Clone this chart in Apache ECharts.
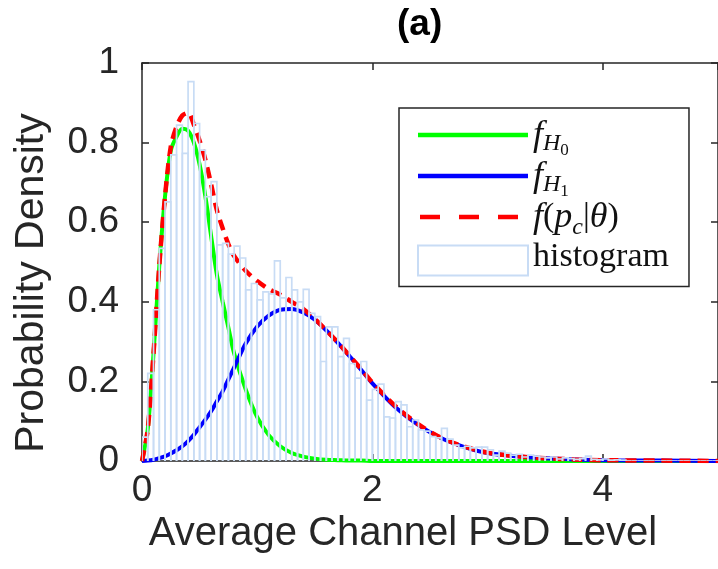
<!DOCTYPE html>
<html>
<head>
<meta charset="utf-8">
<script src="https://cdn.jsdelivr.net/npm/echarts@6/dist/echarts.min.js"></script>
<style>
  html, body { margin: 0; padding: 0; background: #fff; }
  #chart { width: 718px; height: 569px; }
</style>
</head>
<body>
<div id="chart"></div>
<script>
const xs = [0, 0.05, 0.1, 0.15, 0.2, 0.25, 0.3, 0.35, 0.4, 0.45, 0.5, 0.55, 0.6, 0.65, 0.7, 0.75, 0.8, 0.9,
  1.0, 1.1, 1.2, 1.3, 1.4, 1.5, 1.6, 1.7, 1.8, 1.9, 2.0, 2.2, 2.4, 2.6, 2.8, 3.0, 3.25, 3.5, 3.75, 4.0, 4.5, 5.0];

const fH0 = [0, 0.08, 0.27, 0.49, 0.665, 0.78, 0.815, 0.835, 0.83, 0.8, 0.745, 0.665, 0.565, 0.468, 0.4, 0.335, 0.27, 0.18,
  0.11, 0.065, 0.037, 0.02, 0.011, 0.006, 0.003, 0.002, 0.001, 0.001, 0, 0, 0, 0, 0, 0, 0, 0, 0, 0, 0, 0];

const fH1 = [0, 0.001, 0.003, 0.007, 0.012, 0.019, 0.027, 0.037, 0.05, 0.066, 0.085, 0.104, 0.125, 0.15, 0.175, 0.205, 0.235, 0.295,
  0.338, 0.365, 0.38, 0.382, 0.373, 0.355, 0.328, 0.297, 0.264, 0.23, 0.195, 0.135, 0.09, 0.057, 0.035, 0.02, 0.012, 0.007, 0.004, 0.002, 0.001, 0];

const fMix = [0, 0.08, 0.27, 0.49, 0.665, 0.79, 0.84, 0.868, 0.875, 0.845, 0.805, 0.757, 0.695, 0.63, 0.585, 0.545, 0.515, 0.478,
  0.452, 0.432, 0.418, 0.4, 0.382, 0.357, 0.328, 0.298, 0.265, 0.232, 0.197, 0.138, 0.092, 0.058, 0.036, 0.021, 0.012, 0.007, 0.004, 0.002, 0.001, 0];

// histogram: bins of width 0.05 starting at 0
const binStart = 0;
const binWidth = 0.05;
const histHeights = [
  0.06, 0.22, 0.38, 0.534, 0.651, 0.769, 0.844, 0.773, 0.953, 0.848,
  0.781, 0.664, 0.702, 0.543, 0.547, 0.52, 0.54, 0.51, 0.43, 0.446,
  0.405, 0.425, 0.42, 0.503, 0.41, 0.461, 0.43, 0.4, 0.431, 0.371,
  0.363, 0.25, 0.337, 0.337, 0.262, 0.308, 0.245, 0.208, 0.25, 0.153,
  0.18, 0.193, 0.111, 0.108, 0.149, 0.141, 0.086, 0.103, 0.078, 0.075,
  0.061, 0.058, 0.082, 0.055, 0.04, 0.033, 0.037, 0.033, 0.035, 0.035,
  0.028, 0.015, 0.025, 0.02, 0.015, 0.017, 0.01, 0.015, 0.012, 0.01,
  0.008, 0.01, 0.005, 0.008, 0.006, 0.004, 0.006, 0.012, 0.004, 0.003,
  0.005, 0.002, 0.003, 0.002, 0, 0, 0, 0, 0, 0,
  0, 0, 0, 0, 0, 0, 0, 0, 0, 0
];

const xTicks = { min: 0, max: 5, interval: 2 };
const yTicks = { min: 0, max: 1, interval: 0.2 };

const axisColor = '#262626';
const sans = 'Liberation Sans';
const serif = 'Liberation Serif';

const histData = histHeights.map((h, k) => [binStart + k * binWidth, binStart + (k + 1) * binWidth, h]);

function renderBin(params, api) {
  const x0 = api.value(0), x1 = api.value(1), h = api.value(2);
  const pts = [api.coord([x0, 0]), api.coord([x0, h]), api.coord([x1, h]), api.coord([x1, 0])];
  return {
    type: 'polyline',
    shape: { points: pts },
    style: { fill: 'none', stroke: '#c8dcf5', lineWidth: 1.7 }
  };
}

function axisBase(extra) {
  return Object.assign({
    type: 'value',
    axisLine: { show: true, onZero: false, lineStyle: { color: axisColor, width: 1.5 } },
    axisTick: { show: true, inside: true, length: 7, lineStyle: { color: axisColor, width: 1.5 } },
    splitLine: { show: false }
  }, extra);
}

const lineIcon = 'path://M0,0h0.01v0.01h-0.01zM0,12.8h110v4.4h-110zM109.99,29.99h0.01v0.01h-0.01z';
const dashIcon = 'path://M0,0h0.01v0.01h-0.01zM2,12.8h20v4.4h-20zM41,12.8h20v4.4h-20zM80,12.8h20v4.4h-20zM109.99,29.99h0.01v0.01h-0.01z';

const legendText = {
  fH0: '{f|f}{s|H}{ss|0}',
  fH1: '{f|f}{s|H}{ss|1}',
  fpc: '{f|f}{r|(}{f|p}{sc|c}{r||}{f|θ}{r|)}',
  histogram: '{h|histogram}'
};

const option = {
  animation: false,
  title: {
    text: '(a)',
    left: 392,
    top: 1,
    textStyle: { fontFamily: sans, fontSize: 37, fontWeight: 'bold', color: '#000' }
  },
  grid: { left: 142, top: 63, right: -2, bottom: 108 },
  legend: {
    orient: 'vertical',
    left: 399,
    top: 108,
    padding: [10, 20, 10, 18],
    itemGap: 0,
    itemWidth: 110,
    itemHeight: 30,
    backgroundColor: '#fff',
    borderColor: axisColor,
    borderWidth: 1.5,
    selectedMode: false,
    data: [
      { name: 'fH0', icon: lineIcon, itemStyle: { color: '#00ff00', borderWidth: 0 } },
      { name: 'fH1', icon: lineIcon, itemStyle: { color: '#0000ff', borderWidth: 0 } },
      { name: 'fpc', icon: dashIcon, itemStyle: { color: '#ff0000', borderWidth: 0 } },
      { name: 'histogram', icon: 'rect', itemStyle: { color: '#fff', borderColor: '#c8dcf5', borderWidth: 2 } }
    ],
    formatter: name => legendText[name],
    textStyle: {
      color: '#111',
      rich: {
        f: { fontFamily: serif, fontStyle: 'italic', fontSize: 36, lineHeight: 34, verticalAlign: 'top' },
        r: { fontFamily: serif, fontSize: 34, lineHeight: 34, verticalAlign: 'top' },
        s: { fontFamily: serif, fontStyle: 'italic', fontSize: 24, lineHeight: 24, verticalAlign: 'top', padding: [14, 0, 0, 0] },
        ss: { fontFamily: serif, fontSize: 17, lineHeight: 17, verticalAlign: 'top', padding: [24, 0, 0, 0] },
        sc: { fontFamily: serif, fontStyle: 'italic', fontSize: 24, lineHeight: 24, verticalAlign: 'top', padding: [16, 0, 0, 0] },
        h: { fontFamily: serif, fontSize: 34, lineHeight: 41, verticalAlign: 'top' }
      }
    }
  },
  xAxis: [
    axisBase(Object.assign({
      position: 'bottom',
      axisLabel: { margin: 11, fontFamily: sans, fontSize: 37, color: axisColor, showMaxLabel: false },
      name: 'Average Channel PSD Level',
      nameLocation: 'middle',
      nameGap: 48,
      nameTextStyle: { fontFamily: sans, fontSize: 40, color: axisColor, padding: [0, 54, 0, 0] }
    }, xTicks)),
    axisBase(Object.assign({ position: 'top', axisLabel: { show: false } }, xTicks))
  ],
  yAxis: [
    axisBase(Object.assign({
      position: 'left',
      axisLabel: { margin: 23, fontFamily: sans, fontSize: 37, color: axisColor },
      name: 'Probability Density',
      nameLocation: 'middle',
      nameGap: 90,
      nameTextStyle: { fontFamily: sans, fontSize: 41, color: axisColor, padding: [0, 42, 0, 0] }
    }, yTicks)),
    axisBase(Object.assign({ position: 'right', axisLabel: { show: false } }, yTicks))
  ],
  series: [
    {
      name: 'fH0', type: 'line', symbol: 'none', smooth: 0.3, z: 2,
      data: xs.map((x, i) => [x, fH0[i]]),
      itemStyle: { color: '#00ff00' },
      lineStyle: { color: '#00ff00', width: 4 }
    },
    {
      name: 'fH1', type: 'line', symbol: 'none', smooth: 0.3, z: 2,
      data: xs.map((x, i) => [x, fH1[i]]),
      itemStyle: { color: '#0000ff' },
      lineStyle: { color: '#0000ff', width: 4 }
    },
    {
      name: 'fpc', type: 'line', symbol: 'none', smooth: 0.3, z: 2,
      data: xs.map((x, i) => [x, fMix[i]]),
      itemStyle: { color: '#ff0000' },
      lineStyle: { color: '#ff0000', width: 4.5, type: [11, 7] }
    },
    {
      name: 'histogram', type: 'custom', z: 3, clip: true,
      renderItem: renderBin,
      encode: { x: [0, 1], y: 2 },
      itemStyle: { color: '#c8dcf5' },
      data: histData
    }
  ]
};

const chart = echarts.init(document.getElementById('chart'));
chart.setOption(option);
</script>
</body>
</html>
